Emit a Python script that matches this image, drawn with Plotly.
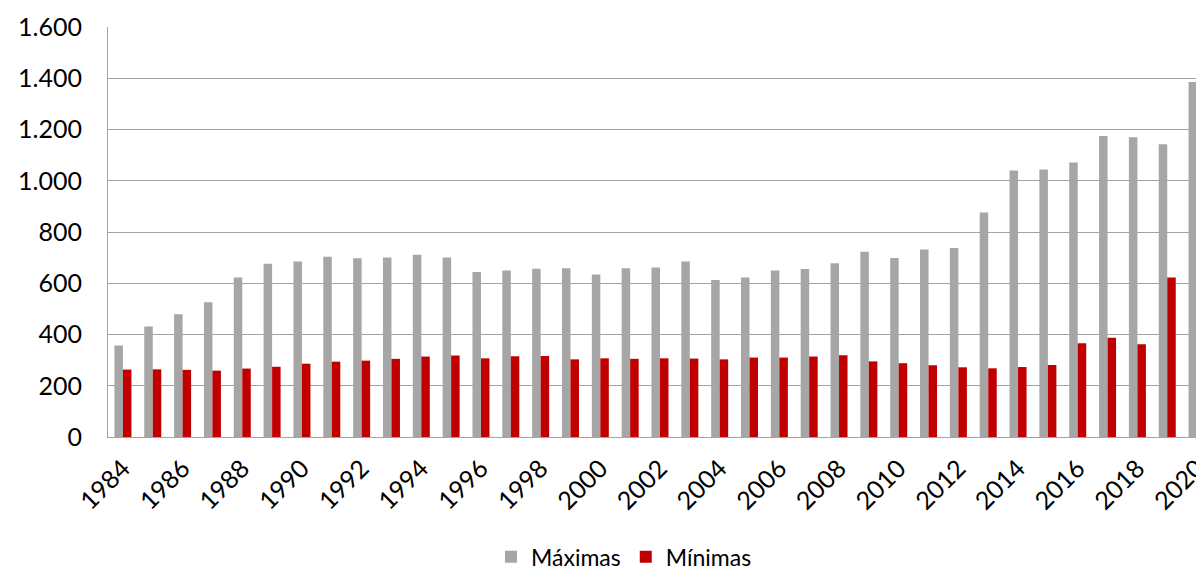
import plotly.graph_objects as go

# Annual series, 1984-2020
years = list(range(1984, 2021))
maximas = [357, 431, 479, 526, 622, 676, 685, 703, 698, 700,
           711, 700, 644, 650, 657, 659, 634, 659, 661, 685,
           613, 622, 650, 656, 678, 723, 699, 732, 738, 876,
           1040, 1044, 1071, 1175, 1170, 1142, 1385]
minimas = [263, 264, 262, 259, 267, 274, 286, 294, 298, 305,
           314, 318, 307, 315, 316, 303, 307, 305, 307, 306,
           303, 310, 310, 314, 319, 295, 288, 280, 272, 268,
           273, 281, 366, 387, 362, 622, 692]
y_ticks = [0, 200, 400, 600, 800, 1000, 1200, 1400, 1600]
x_ticks = list(range(1984, 2021, 2))

FONT = "Lato"
GRID = "#a3a3a3"

fig = go.Figure()
fig.add_trace(go.Bar(x=years, y=maximas, name="Máximas",
                     marker=dict(color="#a6a6a6", line=dict(width=0))))
fig.add_trace(go.Bar(x=years, y=minimas, name="Mínimas",
                     marker=dict(color="#c00000", line=dict(width=0))))

fig.update_layout(
    width=1230, height=573,
    margin=dict(l=108, r=18, t=27, b=136, autoexpand=False),
    paper_bgcolor="white", plot_bgcolor="white",
    barmode="group", bargap=0.43, bargroupgap=0,
    separators=",.",
    font=dict(family=FONT, size=25, color="#000000"),
    showlegend=True,
    legend=dict(orientation="h", x=0.4674, xanchor="center",
                y=-0.24, yanchor="top",
                font=dict(family=FONT, size=23, color="#000000"),
                traceorder="normal", itemwidth=30),
)
fig.update_xaxes(
    range=[1983.5, 2020.5], tickmode="array", tickvals=x_ticks,
    ticktext=[str(t) for t in x_ticks], tickangle=-45,
    showgrid=False, showline=True, linecolor=GRID, linewidth=1,
    ticks="", ticklabelstandoff=6, automargin=False,
    tickfont=dict(family=FONT, size=25, color="#000000"),
)
fig.update_yaxes(
    range=[0, 1600], tickmode="array", tickvals=y_ticks, tickformat=",d",
    showgrid=True, gridcolor=GRID, gridwidth=1,
    showline=True, linecolor=GRID, linewidth=1, zeroline=False,
    ticks="", ticklabelstandoff=20, automargin=False,
    tickfont=dict(family=FONT, size=25, color="#000000"),
)

fig.write_html(
    "out.html",
    post_script="document.documentElement.style.overflow='hidden';"
                "document.body.style.overflow='hidden';",
)
